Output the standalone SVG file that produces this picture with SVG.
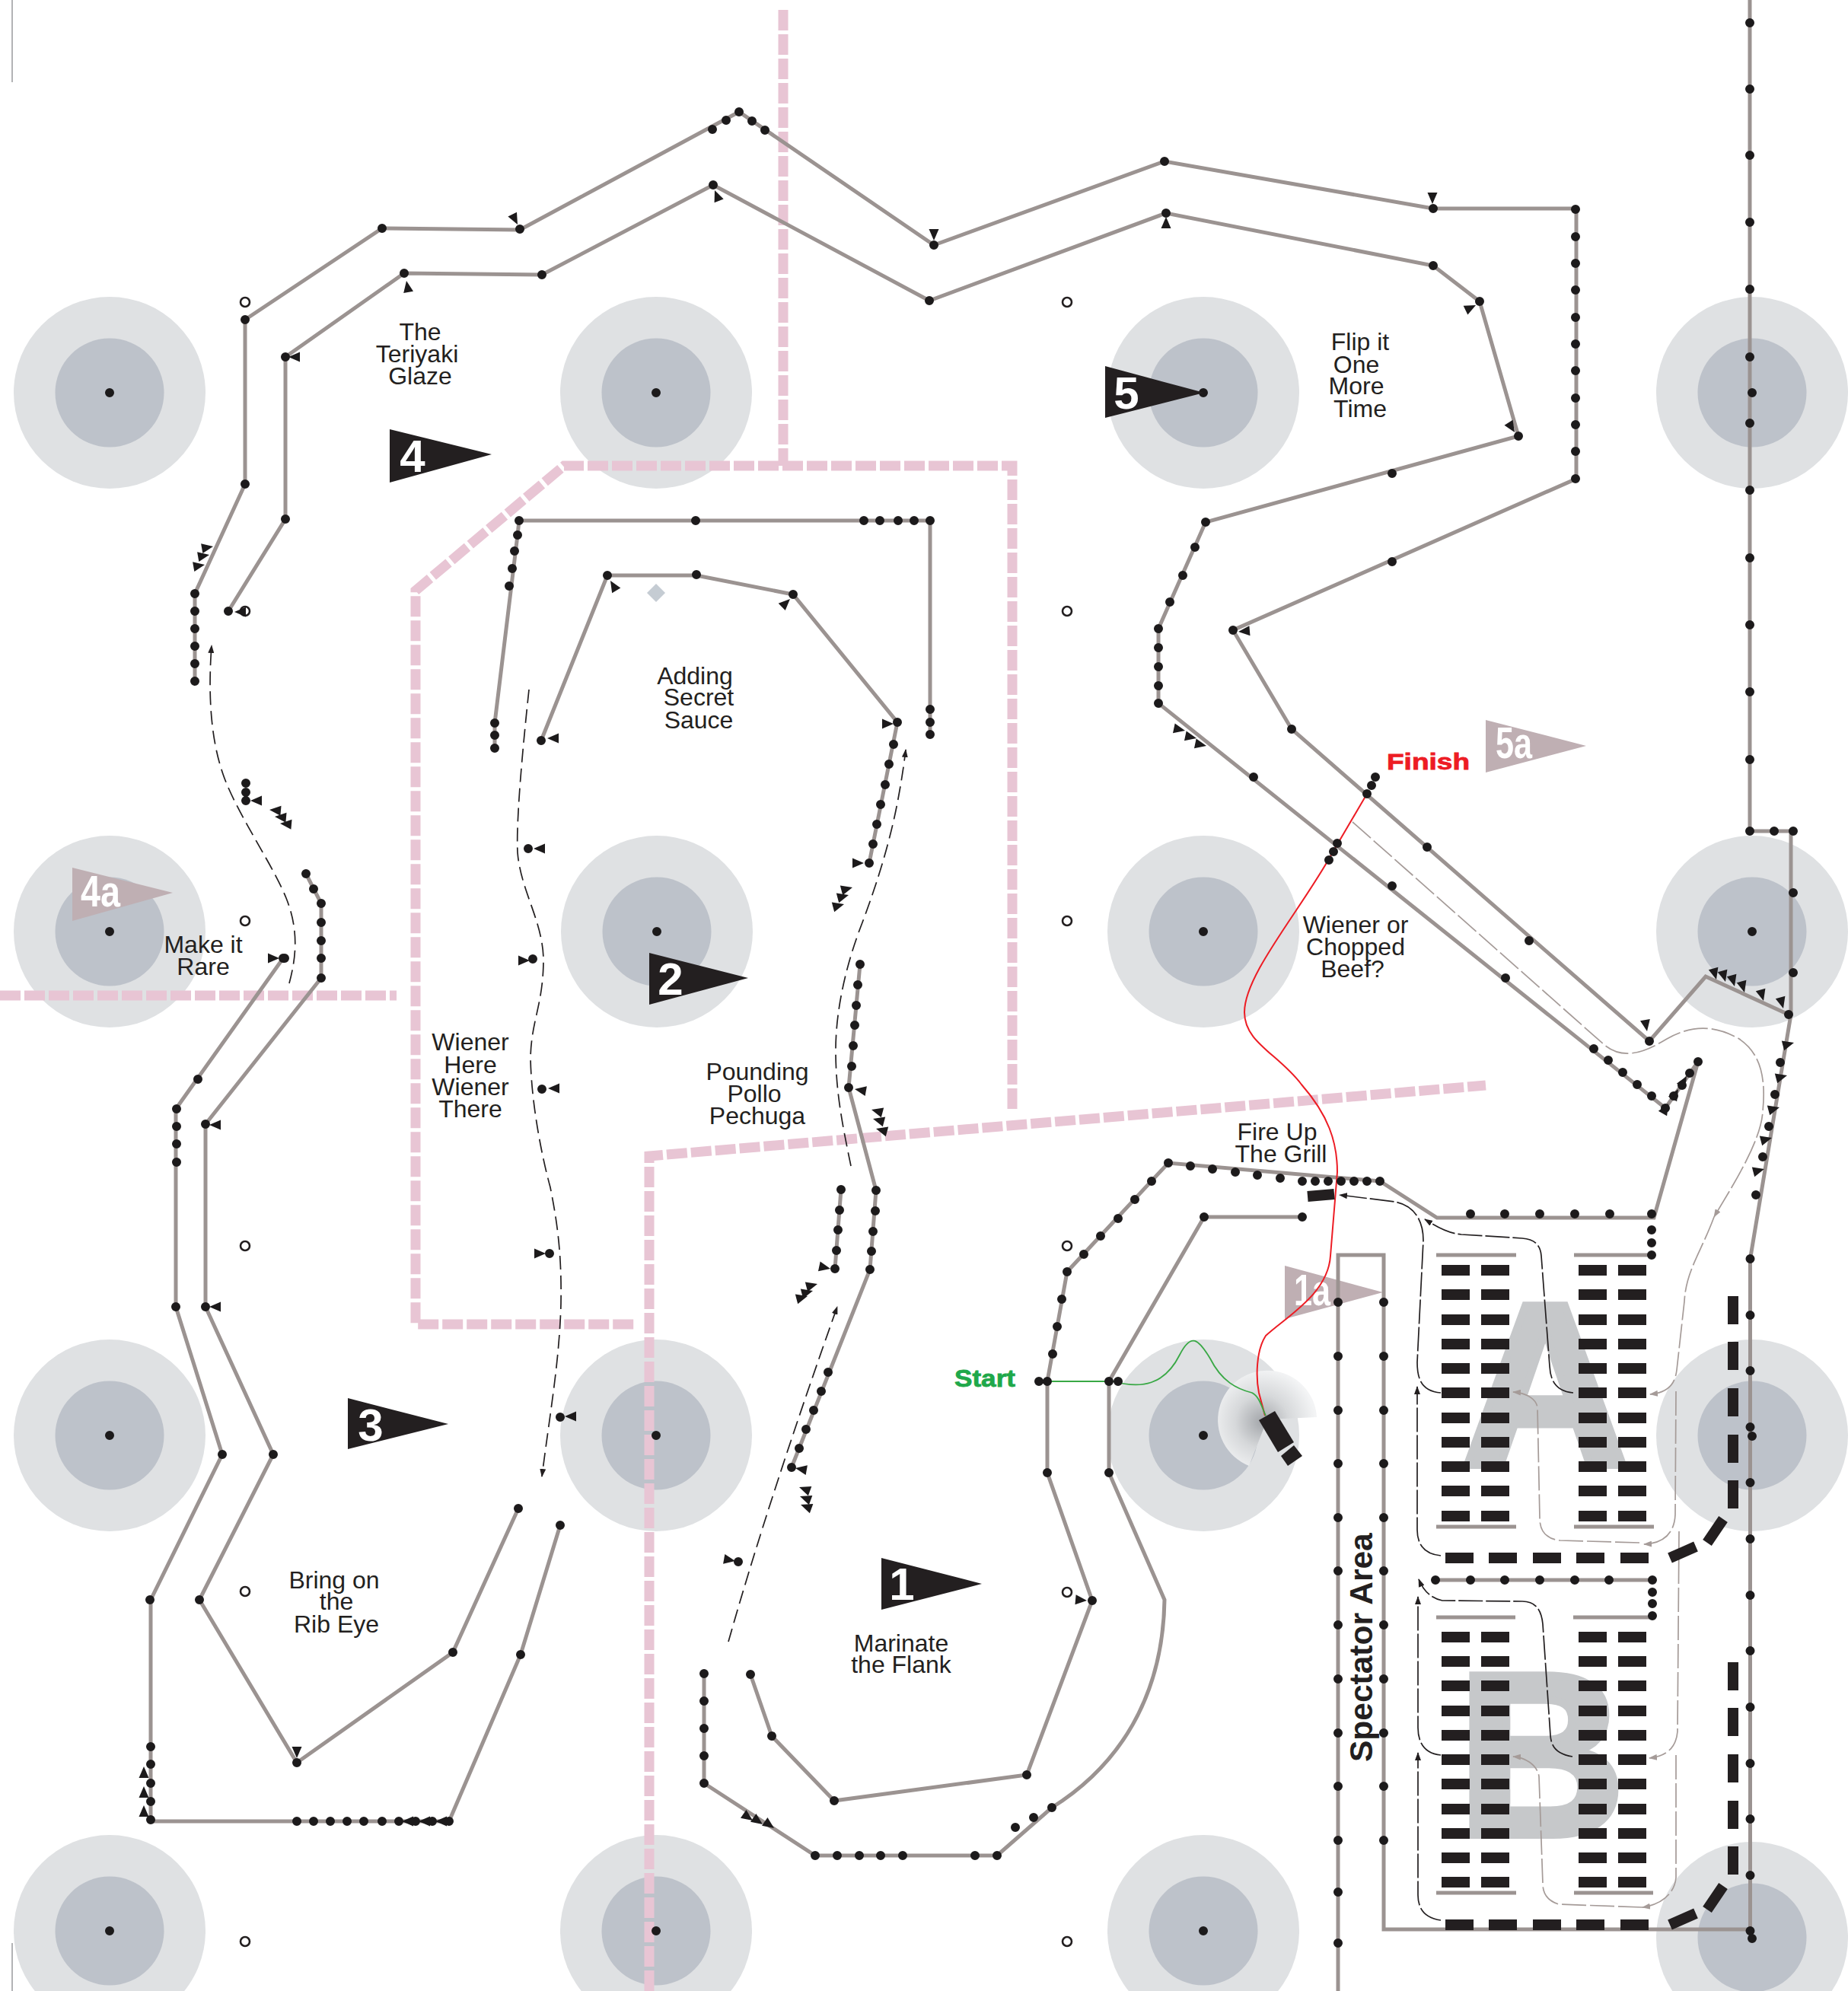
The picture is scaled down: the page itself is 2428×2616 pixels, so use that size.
<svg xmlns="http://www.w3.org/2000/svg" width="2428" height="2616" viewBox="0 0 2428 2616">
<style>
text{font-family:"Liberation Sans",Arial,sans-serif;fill:#231f20}
.lb{font-size:32px;text-anchor:middle}
.fn{font-size:60px;font-weight:700;fill:#fff;text-anchor:middle}
.fa{font-size:58px;font-weight:700;fill:#fff}
.t{fill:none;stroke:#9b9391;stroke-width:5;stroke-linejoin:miter}
.bar{fill:none;stroke:#9b9391;stroke-width:5}
.d{fill:none;stroke:#1c1a1b;stroke-width:12;stroke-linecap:round}
.p{fill:none;stroke:#e8c5d4;stroke-width:13;stroke-dasharray:27 5}
.k{fill:none;stroke:#231f20;stroke-width:1.7;stroke-dasharray:18 8}
.kl{fill:none;stroke:#231f20;stroke-width:1.7;stroke-dasharray:32 4}
.g{fill:none;stroke:#a59b98;stroke-width:1.7;stroke-dasharray:32 5}
.o{fill:#dfe1e3}.i{fill:#bdc2ca}
.c{fill:#fff;stroke:#231f20;stroke-width:2.6}
.h{fill:#231f20}
.gf{fill:#bfafb3}
.big{fill:#c6c8ca;stroke:#c6c8ca;stroke-width:10;font-size:305px;font-weight:700}
</style>
<defs>
<polygon id="tri" points="0,0 -15,-6.5 -15,6.5" fill="#1c1a1b"/>
<marker id="ab" markerUnits="userSpaceOnUse" markerWidth="12" markerHeight="8" refX="10" refY="4" orient="auto"><path d="M0 0L11 4L0 8z" fill="#231f20"/></marker>
<marker id="ag" markerUnits="userSpaceOnUse" markerWidth="12" markerHeight="8" refX="10" refY="4" orient="auto"><path d="M0 0L11 4L0 8z" fill="#a59b98"/></marker>
<radialGradient id="spot" gradientUnits="userSpaceOnUse" cx="1658" cy="1868" r="70"><stop offset="0" stop-color="#a3a6aa"/><stop offset=".5" stop-color="#d6d8da"/><stop offset="1" stop-color="#f3f4f5"/></radialGradient>
<g id="ring"><circle class="o" r="126"/><circle class="i" r="71.5"/></g>
<g id="row" class="h"><rect x="1894" y="-7" width="37" height="14"/><rect x="1946" y="-7" width="37" height="14"/><rect x="2074" y="-7" width="37" height="14"/><rect x="2126" y="-7" width="37" height="14"/></g>
<g id="hrow" class="h"><rect x="1899" y="-7" width="37" height="14"/><rect x="1956" y="-7" width="37" height="14"/><rect x="2014" y="-7" width="37" height="14"/><rect x="2071" y="-7" width="37" height="14"/><rect x="2129" y="-7" width="37" height="14"/></g>
<path id="hcurve" d="M2194 0L2228 -15M2243 -20L2264 -51" fill="none" stroke="#231f20" stroke-width="14"/>
</defs>
<rect width="2428" height="2616" fill="#fff"/>
<g id="hills">
<use href="#ring" x="144" y="516"/><use href="#ring" x="862" y="516"/><use href="#ring" x="1581" y="516"/><use href="#ring" x="2302" y="516"/>
<use href="#ring" x="144" y="1224"/><use href="#ring" x="863" y="1224"/><use href="#ring" x="1581" y="1224"/><use href="#ring" x="2302" y="1224"/>
<use href="#ring" x="144" y="1886"/><use href="#ring" x="862" y="1886"/><use href="#ring" x="1581" y="1886"/><use href="#ring" x="2302" y="1886"/>
<use href="#ring" x="144" y="2537"/><use href="#ring" x="862" y="2537"/><use href="#ring" x="1581" y="2537"/><use href="#ring" x="2302" y="2546"/>
</g>
<g id="spotlight"><path d="M1665 1865L1730 1862A65 65 0 1 0 1641 1926Z" fill="url(#spot)"/></g>
<g id="letters">
<text class="big" x="1920" y="1925" style="fill:#c6c8ca">A</text>
<text class="big" x="1915" y="2411" style="fill:#c6c8ca">B</text>
</g>
<g id="boundaries">
<path class="p" d="M1029 13V612"/>
<path class="p" d="M1330 1457V612H741L546 776V1740H833"/>
<path class="p" d="M0 1308H521"/>
<path class="p" d="M853 2616V1519L1952 1426"/>
</g>
<g id="edge-marks"><path d="M16 0V108M16 2553V2616" stroke="#808285" stroke-width="1.2" fill="none"/></g>
<g id="flag-1a"><polygon class="gf" points="1688,1663 1688,1733 1817,1698"/><text class="fa" x="1700" y="1715" textLength="48" lengthAdjust="spacingAndGlyphs">1a</text></g>
<g id="flag-4a"><polygon class="gf" points="95,1140 95,1210 227,1173"/><text class="fa" x="106" y="1191" textLength="52" lengthAdjust="spacingAndGlyphs">4a</text></g>
<g id="flag-5a"><polygon class="gf" points="1952,946 1952,1015 2084,980"/><text class="fa" x="1965" y="996" textLength="48" lengthAdjust="spacingAndGlyphs">5a</text></g>
<g id="connectors">
<path class="t" d="M256 895V780L322 636V420L502 300L683 302L971 147L1227 322L1530 212L1883 274H2071V629L1620 828L1697 958L2167 1368L2241 1283L2350 1333"/>
<path class="t" d="M300 803L375 682V469L531 359L712 361L937 243L1221 395L1532 280L1883 349L1944 396L1995 573L1584 686L1522 826V924L2188 1456L2231 1395"/>
<path class="t" d="M650 983V950L680 703L682 684H1222V965"/>
<path class="t" d="M711 973L798 756H915L1042 781L1179 949L1142 1134"/>
<path class="t" d="M1130 1267L1115 1429L1151 1564L1143 1668L1040 1928"/>
<path class="t" d="M1105 1563L1097 1667"/>
<path class="t" d="M925 2199V2343L1071 2438H1310L1382 2375C1470 2320 1528 2230 1530 2102L1457 1935V1815L1582 1599H1711"/>
<path class="t" d="M986 2200L1014 2281L1096 2366L1349 2332L1435 2103L1376 1935V1815L1402 1671L1535 1528L1813 1552L1888 1600H2173L2231 1395"/>
<path class="t" d="M2299 0V1092H2353V1333L2299.5 1654V2535H1818V1649H1758V2616M2353 1092H2356"/>
<path class="t" d="M736 2004L684 2174L590 2393H198V2102L292 1911L231 1717V1457L372 1259"/>
<path class="t" d="M402 1148L422 1187V1285L270 1477V1717L359 1911L262 2102L390 2316L595 2171L681 1982"/>
<path class="t" d="M1886 2076H2171"/>
<path class="bar" d="M1887 1649H1992M2068 1649H2173M1887 2006H1992M2068 2006H2173M1887 2125H1991M2067 2125H2171M1887 2487H1992M2068 2487H2172"/>
</g>
<g id="paths">
<path class="k" marker-end="url(#ab)" d="M380 1292C390 1255 392 1220 376 1180C360 1140 322 1085 300 1035C280 990 272 930 278 848"/>
<path class="k" marker-end="url(#ab)" d="M695 906C686 990 678 1080 680 1120C684 1170 713 1210 714 1260C714 1320 698 1340 697 1390C698 1450 712 1520 723 1560C733 1610 738 1650 737 1713C735 1790 722 1860 712 1940"/>
<path class="k" marker-end="url(#ab)" d="M1118 1532C1105 1470 1098 1430 1098 1380C1098 1320 1115 1260 1130 1220C1155 1155 1170 1100 1178 1060C1183 1035 1187 1010 1190 985"/>
<path class="k" marker-end="url(#ab)" d="M957 2157Q1010 1970 1100 1717"/>
<path class="g" marker-end="url(#ag)" d="M1777 1080L2108 1373C2135 1395 2165 1380 2190 1365C2220 1348 2250 1345 2285 1365C2315 1385 2320 1420 2316 1460C2314 1500 2275 1560 2252 1599"/>
<path class="g" marker-end="url(#ag)" d="M2252 1599C2235 1645 2215 1670 2213 1710L2203 1800C2200 1825 2185 1830 2168 1832"/>
<path class="g" marker-end="url(#ag)" d="M2202 1828L2201 1990C2200 2015 2185 2028 2160 2029"/>
<path class="g" marker-end="url(#ag)" d="M2154 2027L2050 2024C2030 2022 2023 2010 2023 1995L2020 1850C2019 1838 2005 1830 1988 1829"/>
<path class="g" marker-end="url(#ag)" d="M2206 2012L2204 2275C2202 2300 2185 2308 2167 2310"/>
<path class="g" marker-end="url(#ag)" d="M2202 2306V2467C2200 2490 2180 2503 2158 2506"/>
<path class="g" marker-end="url(#ag)" d="M2158 2506L2048 2502C2035 2498 2027 2490 2027 2475L2022 2334C2020 2320 2005 2309 1988 2308"/>
<path class="kl" marker-end="url(#ab)" d="M1893 1830C1870 1828 1862 1815 1862 1790L1870 1630C1870 1595 1850 1582 1832 1579L1760 1570"/>
<path class="kl" marker-end="url(#ab)" d="M2067 1830C2045 1828 2037 1815 2036 1795L2025 1650C2024 1635 2015 1628 2000 1627L1920 1622C1900 1620 1885 1610 1872 1602"/>
<path class="kl" marker-end="url(#ab)" d="M1893 2044C1872 2042 1862 2030 1862 2010V1822"/>
<path class="kl" marker-end="url(#ab)" d="M1893 2306C1872 2304 1863 2290 1863 2270V2098"/>
<path class="kl" marker-end="url(#ab)" d="M2066 2308C2045 2305 2038 2295 2037 2280L2027 2134C2025 2112 2015 2104 2000 2104L1895 2103C1880 2100 1870 2090 1864 2075"/>
<path class="kl" marker-end="url(#ab)" d="M1893 2523C1872 2520 1863 2508 1863 2490V2303"/>
</g>
<g id="parking">
<use href="#row" y="1669"/><use href="#row" y="1701"/><use href="#row" y="1734"/><use href="#row" y="1766"/><use href="#row" y="1798"/><use href="#row" y="1830"/><use href="#row" y="1863"/><use href="#row" y="1895"/><use href="#row" y="1927"/><use href="#row" y="1959"/><use href="#row" y="1992"/>
<use href="#row" y="2151"/><use href="#row" y="2183"/><use href="#row" y="2215"/><use href="#row" y="2248"/><use href="#row" y="2280"/><use href="#row" y="2312"/><use href="#row" y="2344"/><use href="#row" y="2377"/><use href="#row" y="2409"/><use href="#row" y="2441"/><use href="#row" y="2473"/>
<use href="#hrow" y="2047"/><use href="#hrow" y="2529"/>
<use href="#hcurve" y="2047"/><use href="#hcurve" y="2529"/>
<g class="h"><rect x="2270" y="1703" width="14" height="37"/><rect x="2270" y="1763" width="14" height="37"/><rect x="2270" y="1824" width="14" height="37"/><rect x="2270" y="1885" width="14" height="37"/><rect x="2270" y="1945" width="14" height="37"/><rect x="2270" y="2184" width="14" height="37"/><rect x="2270" y="2244" width="14" height="37"/><rect x="2270" y="2305" width="14" height="37"/><rect x="2270" y="2366" width="14" height="37"/><rect x="2270" y="2426" width="14" height="37"/></g>
</g>
<g id="red-line"><path d="M1796 1043L1752 1118C1710 1195 1635 1280 1635 1330C1635 1370 1680 1385 1710 1425C1745 1465 1757 1500 1757 1540L1748 1650C1745 1700 1690 1730 1663 1755C1650 1775 1650 1810 1654 1830L1662 1860" fill="none" stroke="#ed1c24" stroke-width="2"/></g>
<g id="green-line"><path d="M1369 1815H1462C1500 1825 1530 1820 1550 1780C1565 1750 1575 1760 1590 1785C1605 1815 1625 1825 1645 1830C1655 1835 1658 1850 1663 1860" fill="none" stroke="#39a845" stroke-width="1.8"/></g>
<g id="car" class="h"><polygon points="1654,1866 1675,1854 1700,1895 1679,1908"/><polygon points="1683,1913 1700,1899 1711,1913 1692,1926"/></g>
<g id="gate"><path d="M1718 1572L1753 1569" stroke="#231f20" stroke-width="14" fill="none"/></g>
<g id="diamond"><polygon points="862,767 874,779 862,791 850,779" fill="#c5ccd3"/></g>
<g id="open-markers">
<circle class="c" cx="322" cy="397" r="6"/><circle class="c" cx="322" cy="803" r="6"/><circle class="c" cx="322" cy="1210" r="6"/><circle class="c" cx="322" cy="1637" r="6"/><circle class="c" cx="322" cy="2091" r="6"/><circle class="c" cx="322" cy="2551" r="6"/>
<circle class="c" cx="1402" cy="397" r="6"/><circle class="c" cx="1402" cy="803" r="6"/><circle class="c" cx="1402" cy="1210" r="6"/><circle class="c" cx="1402" cy="1637" r="6"/><circle class="c" cx="1402" cy="2092" r="6"/><circle class="c" cx="1402" cy="2551" r="6"/>
</g>
<g id="dots"><path class="d" d="
M144 516h0M862 516h0M1581 516h0M2302 516h0M144 1224h0M863 1224h0M1581 1224h0M2302 1224h0M144 1886h0M862 1886h0M1581 1886h0M2302 1887h0M144 2537h0M862 2537h0M1581 2537h0M2302 2547h0
M256 780h0M256 803h0M256 826h0M256 849h0M256 872h0M256 895h0M322 636h0M322 420h0M502 300h0M683 301h0
M936 170h0M954 158h0M971 147h0M988 159h0M1005 171h0M1227 322h0M1530 212h0M1883 274h0
M2070 275h0M2070 311h0M2070 346h0M2070 381h0M2070 417h0M2070 452h0M2070 487h0M2070 523h0M2070 558h0M2070 593h0M2070 629h0
M1829 738h0M1620 828h0M1697 958h0M1796 1043h0M1802 1032h0M1807 1021h0M1875 1113h0M2009 1236h0M2167 1368h0M2350 1333h0
M300 803h0M375 682h0M375 469h0M531 359h0M712 361h0M937 243h0M1221 395h0M1532 280h0M1883 349h0M1944 396h0M1995 573h0M1829 622h0M1584 686h0
M1570 719h0M1554 756h0M1537 791h0M1522 826h0M1522 851h0M1522 876h0M1522 901h0M1522 924h0M1647 1021h0
M1757 1108h0M1752 1119h0M1746 1130h0M1829 1164h0M1978 1285h0M2094 1378h0M2113 1393h0M2132 1409h0M2151 1425h0M2170 1440h0M2188 1456h0M2199 1440h0M2210 1426h0M2220 1410h0M2231 1395h0
M650 950h0M650 966h0M650 983h0M669 770h0M673 747h0M676 724h0M680 703h0M682 684h0M914 684h0M1135 684h0M1156 684h0M1180 684h0M1201 684h0M1222 684h0M1222 932h0M1222 949h0M1222 965h0
M711 973h0M798 756h0M915 755h0M1042 781h0M1179 949h0M1174 978h0M1168 1004h0M1163 1031h0M1157 1057h0M1152 1083h0M1147 1109h0M1142 1134h0
M323 1029h0M323 1041h0M323 1052h0M694 1115h0M700 1260h0M712 1431h0M722 1647h0M736 1862h0
M374 1259h0M402 1148h0M412 1168h0M422 1187h0M422 1212h0M422 1236h0M422 1259h0M422 1285h0
M1130 1267h0M1127 1294h0M1125 1321h0M1123 1347h0M1121 1374h0M1119 1401h0M1115 1429h0M1151 1564h0M1150 1591h0M1147 1618h0M1145 1644h0M1143 1668h0M1088 1803h0M1079 1828h0M1069 1853h0M1059 1878h0M1050 1903h0M1040 1928h0
M1105 1563h0M1103 1590h0M1101 1616h0M1099 1643h0M1097 1667h0M970 2052h0
M925 2199h0M925 2235h0M925 2271h0M925 2307h0M925 2343h0M1071 2438h0M1100 2438h0M1129 2438h0M1157 2438h0M1186 2438h0M1281 2438h0M1310 2438h0M1382 2375h0M1358 2388h0M1334 2401h0
M986 2200h0M1014 2281h0M1096 2366h0M1349 2332h0M1435 2103h0M1376 1935h0M1457 1935h0M1376 1815h0M1365 1815h0M1457 1815h0M1469 1815h0
M1383 1779h0M1389 1743h0M1395 1707h0M1402 1671h0M1424 1648h0M1446 1624h0M1469 1601h0M1491 1576h0M1513 1552h0M1535 1528h0M1564 1532h0M1593 1536h0M1623 1540h0M1652 1544h0M1682 1548h0M1711 1552h0M1728 1552h0M1745 1552h0M1762 1552h0M1779 1552h0M1796 1552h0M1813 1552h0
M1582 1599h0M1711 1599h0M1932 1595h0M1977 1595h0M2023 1595h0M2069 1595h0M2115 1595h0M2170 1595h0M2170 1616h0M2170 1633h0M2170 1649h0
M1886 2076h0M1932 2076h0M1977 2076h0M2023 2076h0M2069 2076h0M2114 2076h0M2171 2076h0M2171 2092h0M2171 2107h0M2171 2123h0
M2299 30h0M2299 117h0M2299 204h0M2299 292h0M2299 380h0M2299 469h0M2299 556h0M2299 644h0M2299 733h0M2299 821h0M2299 909h0M2299 998h0M2299 1092h0M2331 1092h0M2356 1092h0M2356 1173h0M2356 1278h0
M2339 1396h0M2332 1438h0M2324 1480h0M2316 1520h0M2307 1570h0
M2299.5 1654h0M2299.5 1728h0M2299.5 1801h0M2299.5 1875h0M2299.5 1948h0M2299.5 2022h0M2299.5 2096h0M2299.5 2169h0M2299.5 2243h0M2299.5 2317h0M2299.5 2390h0M2299.5 2464h0M2299.5 2537h0
M1758 1711h0M1758 1782h0M1758 1853h0M1758 1923h0M1758 1994h0M1758 2064h0M1758 2135h0M1758 2206h0M1758 2277h0M1758 2347h0M1758 2418h0M1758 2486h0M1758 2553h0
M1818 1711h0M1818 1782h0M1818 1853h0M1818 1923h0M1818 1994h0M1818 2064h0M1818 2135h0M1818 2206h0M1818 2277h0M1818 2347h0M1818 2418h0
M232 1457h0M232 1480h0M232 1503h0M232 1527h0M231 1717h0M260 1418h0M372 1259h0
M270 1477h0M270 1717h0M359 1911h0M292 1911h0M262 2102h0M197 2102h0M390 2316h0M595 2171h0M681 1982h0M684 2174h0M736 2004h0
M198 2295h0M198 2318h0M198 2343h0M198 2367h0M198 2391h0M390 2393h0M412 2393h0M434 2393h0M456 2393h0M478 2393h0M502 2393h0M524 2393h0M546 2393h0M568 2393h0M590 2393h0
"/></g>
<g id="arrowheads">
<use href="#tri" transform="translate(280 718) rotate(-10)"/><use href="#tri" transform="translate(275 729) rotate(-10)"/><use href="#tri" transform="translate(269 742) rotate(-10)"/>
<use href="#tri" transform="translate(308 804) rotate(180)"/><use href="#tri" transform="translate(719 970) rotate(180)"/><use href="#tri" transform="translate(329 1052) rotate(180)"/>
<use href="#tri" transform="translate(354 1064) rotate(185)"/><use href="#tri" transform="translate(361 1073) rotate(185)"/><use href="#tri" transform="translate(368 1082) rotate(185)"/>
<use href="#tri" transform="translate(701 1115) rotate(180)"/><use href="#tri" transform="translate(367 1259)"/><use href="#tri" transform="translate(696 1262)"/>
<use href="#tri" transform="translate(720 1430) rotate(180)"/><use href="#tri" transform="translate(717 1647)"/><use href="#tri" transform="translate(742 1861) rotate(180)"/>
<use href="#tri" transform="translate(1174 951)"/><use href="#tri" transform="translate(1135 1134)"/><use href="#tri" transform="translate(1120 1166) rotate(-15)"/><use href="#tri" transform="translate(1115 1176) rotate(-15)"/><use href="#tri" transform="translate(1109 1188) rotate(-15)"/>
<use href="#tri" transform="translate(1557 960) rotate(12)"/><use href="#tri" transform="translate(1572 970) rotate(12)"/><use href="#tri" transform="translate(1585 980) rotate(12)"/>
<use href="#tri" transform="translate(1123 1431) rotate(190)"/><use href="#tri" transform="translate(1145 1458) rotate(195)"/><use href="#tri" transform="translate(1147 1470) rotate(195)"/><use href="#tri" transform="translate(1151 1483) rotate(195)"/>
<use href="#tri" transform="translate(1091 1667) rotate(12)"/><use href="#tri" transform="translate(1074 1687) rotate(-15)"/><use href="#tri" transform="translate(1068 1696) rotate(-15)"/><use href="#tri" transform="translate(1061 1703) rotate(-15)"/>
<use href="#tri" transform="translate(1045 1929) rotate(190)"/><use href="#tri" transform="translate(1050 1954) rotate(200)"/><use href="#tri" transform="translate(1051 1966) rotate(200)"/><use href="#tri" transform="translate(1052 1977) rotate(200)"/>
<use href="#tri" transform="translate(966 2051) rotate(10)"/><use href="#tri" transform="translate(1428 2103) rotate(5)"/>
<use href="#tri" transform="translate(390 2310) rotate(90)"/><use href="#tri" transform="translate(189 2321) rotate(-90)"/><use href="#tri" transform="translate(189 2347) rotate(-90)"/><use href="#tri" transform="translate(189 2372) rotate(-90)"/>
<use href="#tri" transform="translate(528 2393) rotate(180)"/><use href="#tri" transform="translate(550 2393) rotate(180)"/><use href="#tri" transform="translate(572 2393) rotate(180)"/>
<use href="#tri" transform="translate(989 2392) rotate(35)"/><use href="#tri" transform="translate(1002 2397) rotate(35)"/><use href="#tri" transform="translate(1017 2402) rotate(35)"/>
<use href="#tri" transform="translate(2164 1355) rotate(80)"/>
<use href="#tri" transform="translate(2255 1287) rotate(75)"/><use href="#tri" transform="translate(2267 1290) rotate(75)"/><use href="#tri" transform="translate(2279 1296) rotate(75)"/><use href="#tri" transform="translate(2292 1304) rotate(75)"/><use href="#tri" transform="translate(2317 1315) rotate(75)"/><use href="#tri" transform="translate(2343 1325) rotate(75)"/>
<use href="#tri" transform="translate(2357 1370) rotate(-15)"/><use href="#tri" transform="translate(2348 1413) rotate(-15)"/><use href="#tri" transform="translate(2338 1455) rotate(-15)"/><use href="#tri" transform="translate(2328 1495) rotate(-15)"/><use href="#tri" transform="translate(2318 1536) rotate(-15)"/>
<use href="#tri" transform="translate(2192 1450) rotate(-60)"/><use href="#tri" transform="translate(2205 1431) rotate(-60)"/><use href="#tri" transform="translate(2216 1414) rotate(-60)"/>
<use href="#tri" transform="translate(1882 268) rotate(90)"/><use href="#tri" transform="translate(1939 401) rotate(-26)"/><use href="#tri" transform="translate(1990 568) rotate(58)"/>
<use href="#tri" transform="translate(680 295) rotate(63)"/><use href="#tri" transform="translate(939 250) rotate(-112)"/><use href="#tri" transform="translate(1227 316) rotate(90)"/><use href="#tri" transform="translate(1532 285) rotate(-90)"/><use href="#tri" transform="translate(1627 830) rotate(175)"/>
<use href="#tri" transform="translate(379 469) rotate(180)"/><use href="#tri" transform="translate(534 369) rotate(-100)"/><use href="#tri" transform="translate(802 763) rotate(-121)"/><use href="#tri" transform="translate(1038 787) rotate(-44)"/>
<use href="#tri" transform="translate(275 1478) rotate(180)"/><use href="#tri" transform="translate(275 1717) rotate(180)"/>
</g>
<g id="flag-1"><polygon class="h" points="1158,2047 1158,2115 1290,2081"/><text class="fn" x="1185" y="2102">1</text></g>
<g id="flag-2"><polygon class="h" points="853,1252 853,1320 983,1285"/><text class="fn" x="881" y="1307">2</text></g>
<g id="flag-3"><polygon class="h" points="457,1837 457,1904 589,1871"/><text class="fn" x="487" y="1893">3</text></g>
<g id="flag-4"><polygon class="h" points="512,564 512,634 646,597"/><text class="fn" x="542" y="620">4</text></g>
<g id="flag-5"><polygon class="h" points="1452,481 1452,549 1582,516"/><text class="fn" x="1480" y="537">5</text></g>
<g id="labels">
<text class="lb" x="552" y="447">The</text><text class="lb" x="548" y="476">Teriyaki</text><text class="lb" x="552" y="505">Glaze</text>
<text class="lb" x="1787" y="460">Flip it</text><text class="lb" x="1782" y="490">One</text><text class="lb" x="1782" y="518">More</text><text class="lb" x="1787" y="548">Time</text>
<text class="lb" x="913" y="899">Adding</text><text class="lb" x="918" y="927">Secret</text><text class="lb" x="918" y="957">Sauce</text>
<text class="lb" x="267" y="1252">Make it</text><text class="lb" x="267" y="1281">Rare</text>
<text class="lb" x="618" y="1380">Wiener</text><text class="lb" x="618" y="1410">Here</text><text class="lb" x="618" y="1439">Wiener</text><text class="lb" x="618" y="1468">There</text>
<text class="lb" x="995" y="1419">Pounding</text><text class="lb" x="991" y="1448">Pollo</text><text class="lb" x="995" y="1477">Pechuga</text>
<text class="lb" x="1781" y="1226">Wiener or</text><text class="lb" x="1781" y="1255">Chopped</text><text class="lb" x="1777" y="1284">Beef?</text>
<text class="lb" x="1678" y="1498">Fire Up</text><text class="lb" x="1683" y="1527">The Grill</text>
<text class="lb" x="439" y="2087">Bring on</text><text class="lb" x="442" y="2115">the</text><text class="lb" x="442" y="2145">Rib Eye</text>
<text class="lb" x="1184" y="2170">Marinate</text><text class="lb" x="1184" y="2198">the Flank</text>
<text x="1254" y="1822" font-size="32" font-weight="700" textLength="80" lengthAdjust="spacingAndGlyphs" stroke="#1fa84a" stroke-width=".8" style="fill:#1fa84a">Start</text>
<text x="1822" y="1011" font-size="29" font-weight="700" textLength="109" lengthAdjust="spacingAndGlyphs" stroke="#ed1c24" stroke-width=".8" style="fill:#ed1c24">Finish</text>
<text transform="translate(1803 2315) rotate(-90)" font-size="42.5" font-weight="700">Spectator Area</text>
</g>
</svg>
